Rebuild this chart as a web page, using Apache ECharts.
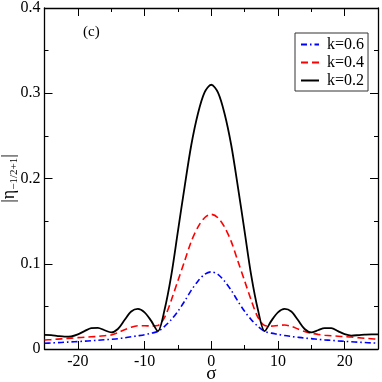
<!DOCTYPE html>
<html>
<head>
<meta charset="utf-8">
<script src="https://cdn.jsdelivr.net/npm/echarts@6/dist/echarts.min.js"></script>
<style>html,body{margin:0;padding:0;background:#fff}#c{width:382px;height:382px}</style>
</head>
<body>
<div id="c"></div>
<script>
const sigma = [-25,-24,-23,-22,-21,-20,-19,-18,-17,-16,-15,-14,-13,-12,-11,-10,-9,-8,-7,-6,-5,-4,-3,-2,-1,0,1,2,3,4,5,6,7,8,9,10,11,12,13,14,15,16,17,18,19,20,21,22,23,24,25];
const k06 = [0.0067,0.0071,0.0075,0.0079,0.0083,0.0087,0.0092,0.0097,0.0103,0.0108,0.0114,0.0121,0.0131,0.0143,0.0155,0.0168,0.0185,0.0206,0.0265,0.0344,0.0442,0.056,0.0688,0.0795,0.0875,0.0905,0.0875,0.0795,0.0688,0.056,0.0442,0.0344,0.0265,0.0207,0.0186,0.0172,0.0158,0.0147,0.0137,0.0128,0.0122,0.0114,0.0107,0.0101,0.0095,0.009,0.0085,0.008,0.0076,0.0072,0.0068];
const k04 = [0.0105,0.011,0.0116,0.0122,0.0128,0.0133,0.0138,0.0143,0.0148,0.0156,0.0165,0.0192,0.0226,0.0256,0.0272,0.0273,0.027,0.0275,0.037,0.057,0.080,0.103,0.126,0.143,0.154,0.158,0.154,0.143,0.126,0.103,0.080,0.057,0.037,0.0275,0.0268,0.0275,0.0282,0.0265,0.0235,0.0205,0.0185,0.0172,0.0162,0.0155,0.015,0.0145,0.014,0.0133,0.0126,0.012,0.0114];
const k02 = [0.0165,0.0162,0.0152,0.0145,0.0148,0.0172,0.021,0.0245,0.0248,0.022,0.0195,0.0235,0.034,0.044,0.047,0.043,0.033,0.021,0.046,0.086,0.138,0.190,0.239,0.276,0.301,0.310,0.301,0.276,0.239,0.190,0.138,0.086,0.046,0.021,0.033,0.043,0.047,0.044,0.034,0.0235,0.0195,0.022,0.0245,0.0245,0.021,0.0175,0.0158,0.0162,0.0168,0.0172,0.0172];
const seriesNames = ['k=0.6','k=0.4','k=0.2'];
const xMajor = [-20,-10,0,10,20];
const xMinor = [-25,-15,-5,5,15,25];
const yTicks = [0,0.1,0.2,0.3,0.4];

const FONT = 'Liberation Serif';
const pair = a => sigma.map((s,i)=>[s,a[i]]);
const chart = echarts.init(document.getElementById('c'), null, {renderer:'canvas'});
const axLine = {show:true, onZero:false, lineStyle:{color:'#000', width:1.3}};
const noLine = {show:false, onZero:false};
const baseX = {type:'value', min:-25, max:25, interval:5, gridIndex:0, splitLine:{show:false}};
chart.setOption({
  animation:false,
  backgroundColor:'#fff',
  grid:{left:44.5, right:4, top:8, bottom:33, containLabel:false, outerBoundsMode:'none'},
  legend:{
    data:seriesNames, orient:'vertical', left:295, top:33,
    borderColor:'#333', borderWidth:1, padding:[3,4,2,5],
    itemWidth:18, itemHeight:12, itemGap:1, backgroundColor:'#fff',
    itemStyle:{opacity:0},
    textStyle:{fontFamily:FONT, fontSize:16, color:'#000', lineHeight:17, padding:[0,0,0,3]}
  },
  xAxis:[
    Object.assign({}, baseX, {position:'bottom', axisLine:axLine,
      axisTick:{show:true, inside:true, length:8, customValues:xMajor, lineStyle:{color:'#000'}},
      axisLabel:{customValues:xMajor, fontFamily:FONT, fontSize:16, color:'#000', margin:5},
      name:'σ', nameLocation:'middle', nameGap:16, nameMoveOverlap:false,
      nameTextStyle:{fontFamily:FONT, fontSize:19, color:'#000'}}),
    Object.assign({}, baseX, {position:'bottom', axisLine:noLine,
      axisTick:{show:true, inside:true, length:4, customValues:xMinor, lineStyle:{color:'#000'}},
      axisLabel:{show:false}}),
    Object.assign({}, baseX, {position:'top', axisLine:axLine,
      axisTick:{show:true, inside:true, length:8, customValues:xMajor, lineStyle:{color:'#000'}},
      axisLabel:{show:false}}),
    Object.assign({}, baseX, {position:'top', axisLine:noLine,
      axisTick:{show:true, inside:true, length:4, customValues:xMinor, lineStyle:{color:'#000'}},
      axisLabel:{show:false}})
  ],
  yAxis:[
    {type:'value', min:0, max:0.4, interval:0.1, position:'left', axisLine:axLine,
      axisTick:{show:true, inside:true, length:8, lineStyle:{color:'#000'}},
      minorTick:{show:true, splitNumber:2, length:4, lineStyle:{color:'#000'}},
      splitLine:{show:false}, minorSplitLine:{show:false},
      axisLabel:{fontFamily:FONT, fontSize:16, color:'#000', margin:4,
        formatter:v=>{const t=yTicks.find(x=>Math.abs(x-v)<1e-9); return t===0?'0':(t!==undefined?t.toFixed(1):'');}},
      name:'{a||η}{s|−1/2+1}{a||}', nameLocation:'middle', nameRotate:90, nameGap:25, nameMoveOverlap:false,
      nameTextStyle:{fontFamily:FONT, color:'#000', rich:{
        a:{fontFamily:FONT, fontSize:18, color:'#000', verticalAlign:'middle'},
        s:{fontFamily:FONT, fontSize:11, color:'#000', verticalAlign:'bottom', padding:[9,0,0,0]}
      }}},
    {type:'value', min:0, max:0.4, interval:0.1, position:'right', axisLine:axLine,
      axisTick:{show:true, inside:true, length:8, lineStyle:{color:'#000'}},
      minorTick:{show:true, splitNumber:2, length:4, lineStyle:{color:'#000'}},
      splitLine:{show:false}, minorSplitLine:{show:false}, axisLabel:{show:false}}
  ],
  graphic:[{type:'text', left:83, top:25, style:{text:'(c)', font:'15px "Liberation Serif"', fill:'#000'}}],
  series:[
    {name:seriesNames[0], type:'line', data:pair(k06), symbol:'none', smooth:0.3,
      lineStyle:{color:'#0000ff', width:1.6, type:[6,3,1.5,3]}, itemStyle:{color:'#0000ff'}},
    {name:seriesNames[1], type:'line', data:pair(k04), symbol:'none', smooth:0.3,
      lineStyle:{color:'#ff0000', width:1.6, type:[7,4]}, itemStyle:{color:'#ff0000'}},
    {name:seriesNames[2], type:'line', data:pair(k02), symbol:'none', smooth:0.3,
      lineStyle:{color:'#000', width:1.8}, itemStyle:{color:'#000'}}
  ]
});
</script>
</body>
</html>
